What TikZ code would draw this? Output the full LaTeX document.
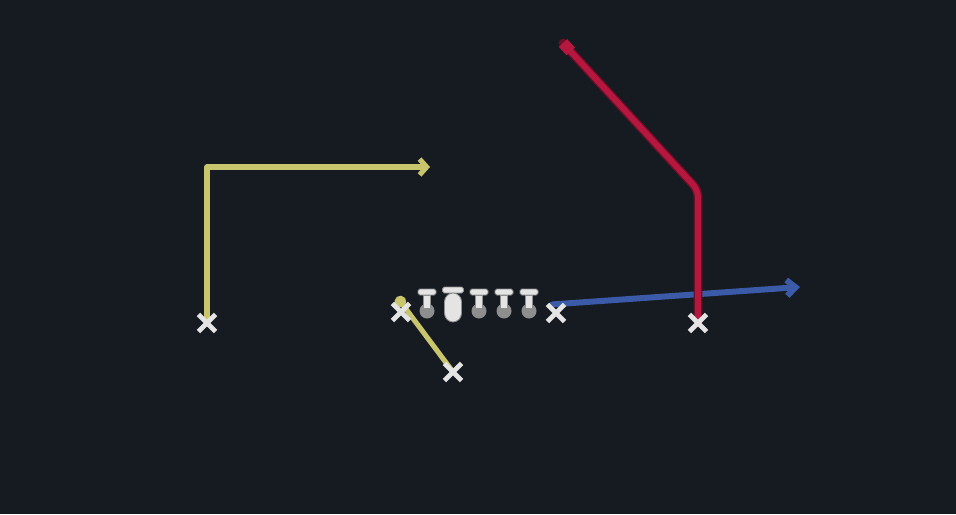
\documentclass[tikz,border=0pt]{standalone}
\usetikzlibrary{arrows.meta,shapes.misc}
\definecolor{field}{HTML}{161A21}
\definecolor{routey}{HTML}{C9C56C}
\definecolor{router}{HTML}{B5173F}
\definecolor{routeb}{HTML}{3B5BA8}
\definecolor{manw}{HTML}{E4E4E4}
\definecolor{mang}{HTML}{8E8E8E}
\pgfdeclarelayer{turf}
\pgfdeclarelayer{paths}
\pgfsetlayers{turf,paths,main}
\begin{document}
\begin{tikzpicture}[x=0.02cm,y=-0.02cm,
    xmark/.style={cross out,draw=manw,line width=2.8pt,minimum size=7pt,inner sep=0pt},
    route/.style={line width=2.9pt,line cap=round,line join=round},
    lineman/.pic={
      \fill[mang] (0,22) circle (7.5);
      \filldraw[manw,draw=mang,line width=0.5pt,rounded corners=1pt] (-9,0) rectangle (9,6);
      \filldraw[manw,draw=mang,line width=0.5pt] (-3.5,6) rectangle (3.5,19);
    },
    centerman/.pic={
      \filldraw[manw,draw=mang,line width=0.5pt,rounded corners=1pt] (-10.5,0) rectangle (10.5,6);
      \filldraw[manw,draw=mang,line width=0.5pt,rounded corners=5pt] (-8.5,6) rectangle (8.5,35);
    }]
    \begin{pgfonlayer}{turf}
      \fill[field] (0,0) rectangle (956,514);
    \end{pgfonlayer}
    \foreach \x/\n in {427/1,479/2,504/3,529/4} \pic (ol\n) at (\x,289) {lineman};
    \pic (ctr) at (453,287) {centerman};
    \node[xmark] (wrl) at (207,323) {};
    \node[xmark] (slot) at (401,312) {};
    \node[xmark] (back) at (453,372) {};
    \node[xmark] (tend) at (556,313) {};
    \node[xmark] (wrr) at (698,323) {};
    \coordinate (ytip) at (430,167);
    \coordinate (yblob) at (397,297);
    \coordinate (btip) at (800,287);
    \coordinate (rbend) at (698,190);
    \coordinate (rtip) at (563,43);
    \begin{pgfonlayer}{paths}
      \draw[route,routey,-{Straight Barb[length=4pt,width=9pt]}] (wrl.center) -- (wrl |- ytip) -- (ytip);
      \draw[route,routey,-{Circle[length=6.5pt]}] (back.center) -- (yblob);
      \draw[route,routeb,line width=3.4pt,-{Straight Barb[length=5pt,width=9pt]}] ([xshift=-2pt]tend.north) -- (btip);
      \draw[route,router!60!black,line width=5pt,rounded corners=4pt] (wrr.center) -- (rbend) -- (rtip);
      \draw[route,router,line width=3.4pt,rounded corners=4pt,-{Square[length=6.5pt,width=6.5pt]}] (wrr.center) -- (rbend) -- (rtip);
    \end{pgfonlayer}
\end{tikzpicture}
\end{document}
